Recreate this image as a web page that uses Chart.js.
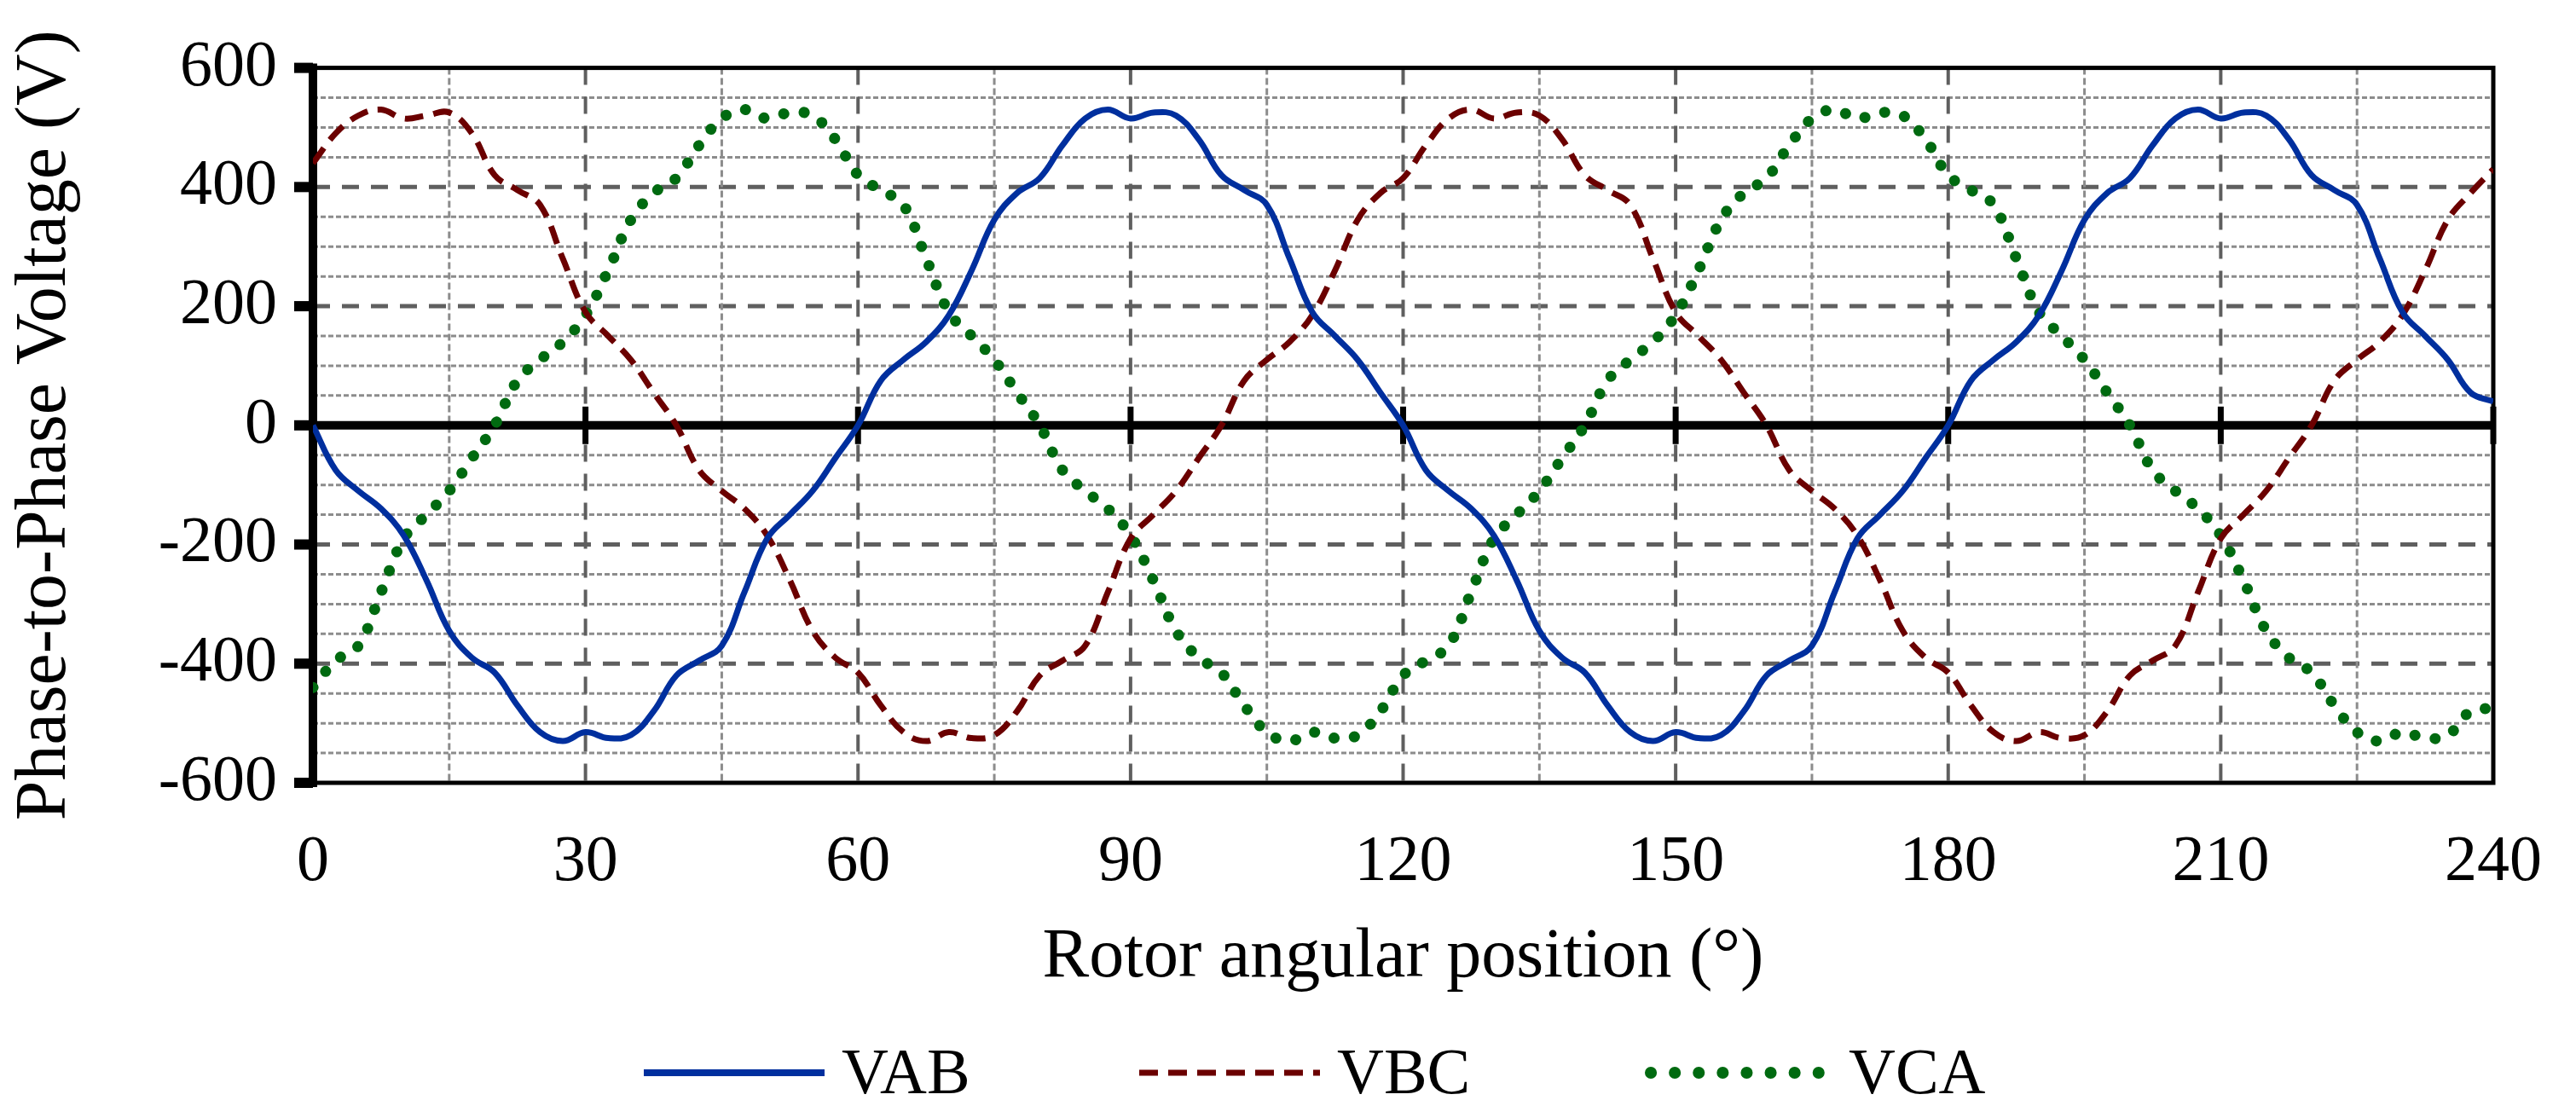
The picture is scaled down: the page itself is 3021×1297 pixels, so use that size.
<!DOCTYPE html>
<html><head><meta charset="utf-8">
<script src="https://cdn.jsdelivr.net/npm/chart.js@4"></script>
<style>html,body{margin:0;padding:0;background:#fff}#w{width:3021px;height:1297px}</style>
</head><body><div id="w"><canvas id="c"></canvas></div>
<script>
const angles = [0,2.5,5,7.5,10,12.5,15,17.5,20,22.5,25,27.5,30,32.5,35,37.5,40,42.5,45,47.5,50,52.5,55,57.5,60,62.5,65,67.5,70,72.5,75,77.5,80,82.5,85,87.5,90,92.5,95,97.5,100,102.5,105,107.5,110,112.5,115,117.5,120,122.5,125,127.5,130,132.5,135,137.5,140,142.5,145,147.5,150,152.5,155,157.5,160,162.5,165,167.5,170,172.5,175,177.5,180,182.5,185,187.5,190,192.5,195,197.5,200,202.5,205,207.5,210,212.5,215,217.5,220,222.5,225,227.5,230,232.5,235,237.5,240];
const VAB = [0,-75,-110,-140,-185,-260,-345,-390,-415,-470,-515,-530,-515,-525,-520,-480,-420,-395,-370,-280,-190,-150,-110,-55,
 0,75,110,140,185,260,345,390,415,470,515,530,515,525,520,480,420,395,370,280,190,150,110,55,
 0,-75,-110,-140,-185,-260,-345,-390,-415,-470,-515,-530,-515,-525,-520,-480,-420,-395,-370,-280,-190,-150,-110,-55,
 0,75,110,140,185,260,345,390,415,470,515,530,515,525,520,480,420,395,370,280,190,150,110,55,40];
const VBC = [440,490,520,530,515,520,525,490,420,395,370,280,190,150,110,55,
 0,-75,-110,-140,-185,-260,-345,-390,-415,-470,-515,-530,-515,-525,-520,-480,-420,-395,-370,-280,-190,-150,-110,-55,
 0,75,110,140,185,260,345,390,415,470,515,530,515,525,520,480,420,395,370,280,190,150,110,55,
 0,-75,-110,-140,-185,-260,-345,-390,-415,-470,-515,-530,-515,-525,-520,-480,-420,-395,-370,-280,-190,-150,-110,-55,
 0,75,110,140,185,260,345,390,430];
const VCA = [-440,-395,-370,-280,-190,-150,-110,-55,0,75,110,140,185,260,345,390,415,470,515,530,515,525,520,480,420,395,370,280,190,150,110,55,
 0,-75,-110,-140,-185,-260,-345,-390,-415,-470,-515,-530,-515,-525,-520,-480,-420,-395,-370,-280,-190,-150,-110,-55,
 0,75,110,140,185,260,345,390,415,470,515,530,515,525,520,480,420,395,370,280,190,150,110,55,
 0,-75,-110,-140,-185,-260,-345,-390,-415,-470,-515,-530,-515,-525,-520,-480,-475];
const xTicks = [0,30,60,90,120,150,180,210,240];
const yTicks = [-600,-400,-200,0,200,400,600];
const seriesNames = ['VAB','VBC','VCA'];
const F = '"Liberation Serif", "Times New Roman", serif';

const frame = {
  id:'frame',
  beforeDatasetsDraw(ch){
    const {ctx, chartArea:a, scales:{x,y}} = ch;
    ctx.save();
    for (let v=-550; v<600; v+=50){
      if (v===0) continue;
      const major = v%200===0;
      ctx.strokeStyle = major?'#5f5f5f':'#8c8c8c';
      ctx.lineWidth = major?5:3;
      ctx.setLineDash(major?[20,14]:[6,3]);
      const py = y.getPixelForValue(v);
      ctx.beginPath(); ctx.moveTo(a.left,py); ctx.lineTo(a.right,py); ctx.stroke();
    }
    for (let v=15; v<240; v+=15){
      const major = v%30===0;
      ctx.strokeStyle = major?'#5f5f5f':'#8c8c8c';
      ctx.lineWidth = major?4:3;
      ctx.setLineDash(major?[20,14]:[8,4]);
      const px = x.getPixelForValue(v);
      ctx.beginPath(); ctx.moveTo(px,a.top); ctx.lineTo(px,a.bottom); ctx.stroke();
    }
    ctx.setLineDash([]);
    ctx.strokeStyle='#000';
    ctx.lineWidth=5;
    ctx.strokeRect(a.left,a.top,a.right-a.left,a.bottom-a.top);
    ctx.lineWidth=10;
    ctx.beginPath(); ctx.moveTo(a.left,a.top-5); ctx.lineTo(a.left,a.bottom+5); ctx.stroke();
    const zy = y.getPixelForValue(0);
    ctx.beginPath(); ctx.moveTo(a.left,zy); ctx.lineTo(a.right,zy); ctx.stroke();
    ctx.lineWidth=7;
    xTicks.forEach(v=>{ if(v===0) return; const px=x.getPixelForValue(v); ctx.beginPath(); ctx.moveTo(px,zy-22); ctx.lineTo(px,zy+22); ctx.stroke();});
    ctx.lineWidth=12;
    yTicks.forEach(v=>{ const py=y.getPixelForValue(v); ctx.beginPath(); ctx.moveTo(a.left-22,py); ctx.lineTo(a.left,py); ctx.stroke();});
    ctx.restore();
  },
  afterDraw(ch){
    const ctx=ch.ctx; ctx.save();
    const items=[{c:'#002f9e',d:[],w:8,x:755},{c:'#6b0000',d:[22,12],w:7,x:1336},{c:'#006a10',d:[0.1,28],w:14,x:1936}];
    const ly=1258;
    items.forEach((it,i)=>{
      ctx.strokeStyle=it.c; ctx.lineWidth=it.w; ctx.setLineDash(it.d); ctx.lineCap=i===2?'round':'butt';
      ctx.beginPath(); ctx.moveTo(it.x,ly); ctx.lineTo(it.x+212,ly); ctx.stroke();
      ctx.setLineDash([]); ctx.fillStyle='#000'; ctx.font='76px '+F; ctx.textBaseline='middle';
      ctx.fillText(seriesNames[i], it.x+232, ly+4);
    });
    ctx.restore();
  }
};

new Chart(document.getElementById('c'),{
  type:'line',
  data:{labels:angles,datasets:[
    {label:'VAB',data:VAB,borderColor:'#002f9e',borderWidth:7,pointRadius:0,tension:0.4},
    {label:'VBC',data:VBC,borderColor:'#6b0000',borderWidth:7,borderDash:[22,12],pointRadius:0,tension:0.4},
    {label:'VCA',data:VCA,borderColor:'#006a10',borderWidth:13,borderDash:[0.1,24],borderCapStyle:'round',pointRadius:0,tension:0.4}
  ]},
  options:{
    responsive:true,maintainAspectRatio:false,animation:false,devicePixelRatio:1,
    layout:{padding:{left:0,right:75,top:58,bottom:120}},
    plugins:{legend:{display:false},tooltip:{enabled:false}},
    scales:{
      x:{type:'linear',min:0,max:240,afterFit(s){s.height=259;},
        ticks:{stepSize:30,color:'#000',font:{family:F,size:76},padding:40,maxRotation:0},
        grid:{display:false},border:{display:false},
        title:{display:true,text:'Rotor angular position (°)',color:'#000',font:{family:F,size:82},padding:{top:30}}},
      y:{min:-600,max:600,afterFit(s){s.width=367;},
        ticks:{stepSize:200,color:'#000',font:{family:F,size:76},padding:34},
        grid:{display:false},border:{display:false},
        title:{display:true,text:'Phase-to-Phase Voltage (V)',color:'#000',font:{family:F,size:84},padding:{bottom:30}}}
    }
  },
  plugins:[frame]
});
</script></body></html>
